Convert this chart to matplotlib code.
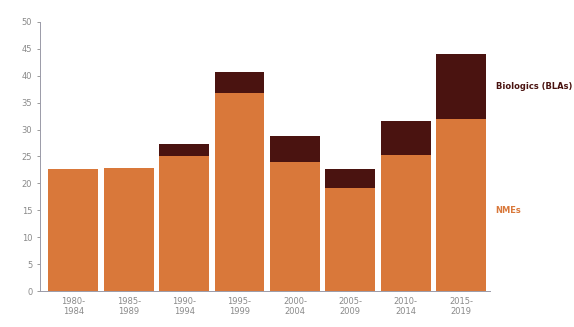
import matplotlib.pyplot as plt

periods = ['1980-\n1984', '1985-\n1989', '1990-\n1994', '1995-\n1999',
           '2000-\n2004', '2005-\n2009', '2010-\n2014', '2015-\n2019']
nmes = [22.7, 22.9, 25.1, 36.8, 24.0, 19.1, 25.3, 32.0]
biologics = [0, 0, 2.2, 3.9, 4.8, 3.6, 6.3, 12.1]

orange = '#d9783a'
dark = '#4a1310'
grey = '#8a8a8a'

fig = plt.figure(figsize=(5.74, 3.27), dpi=100)
ax = fig.add_axes([0.0697, 0.110, 0.784, 0.823])

x = range(len(periods))
ax.bar(x, nmes, width=0.9, color=orange)
ax.bar(x, biologics, width=0.9, bottom=nmes, color=dark)

ax.set_xlim(-0.6, 7.52)
ax.set_ylim(0, 50)
ax.set_yticks(range(0, 51, 5))
ax.set_xticks(list(x))
ax.set_xticklabels(periods)
ax.tick_params(axis='both', labelsize=6, colors=grey, length=2, width=0.6)
ax.tick_params(axis='x', length=0, pad=4)
for s in ['top', 'right']:
    ax.spines[s].set_visible(False)
for s in ['left', 'bottom']:
    ax.spines[s].set_color('#9a9aa8')
    ax.spines[s].set_linewidth(0.7)

ax.text(7.62, 38.0, 'Biologics (BLAs)', color=dark, fontsize=6, fontweight='bold',
        va='center', ha='left', clip_on=False)
ax.text(7.62, 14.9, 'NMEs', color=orange, fontsize=6, fontweight='bold',
        va='center', ha='left', clip_on=False)

fig.savefig('out.png', dpi=100)
